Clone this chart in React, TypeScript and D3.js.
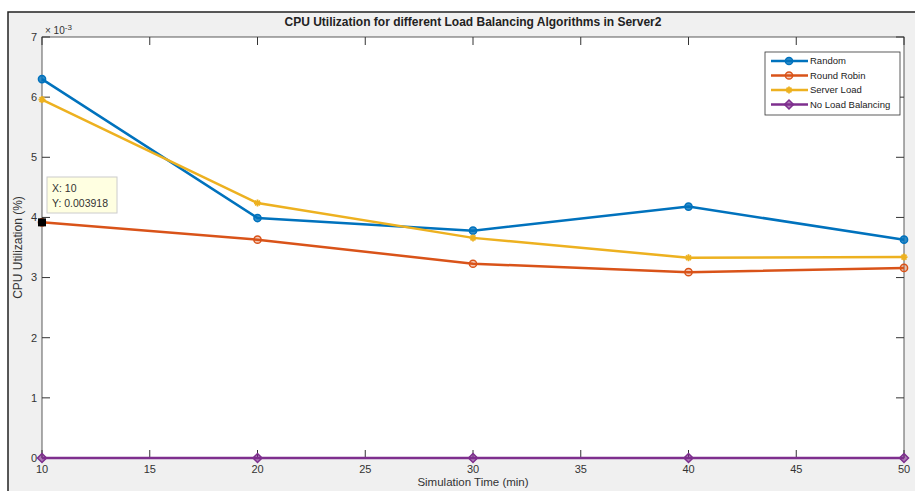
import React from "react";
import * as d3 from "d3";

const WIDTH = 915;
const HEIGHT = 491;

const times = [10, 20, 30, 40, 50];
const randomVals = [6.3, 3.99, 3.78, 4.18, 3.63];
const roundRobinVals = [3.918, 3.63, 3.23, 3.09, 3.16];
const serverLoadVals = [5.96, 4.24, 3.66, 3.33, 3.34];
const noBalanceVals = [0, 0, 0, 0, 0];

const seriesNames = ["Random", "Round Robin", "Server Load", "No Load Balancing"];
const colors = ["#0072BD", "#D95319", "#EDB120", "#7E2F8E"];
const xTicks = [10, 15, 20, 25, 30, 35, 40, 45, 50];
const yTicks = [0, 1, 2, 3, 4, 5, 6, 7];

const PLOT = { left: 42, top: 37, right: 904, bottom: 458 };
const FONT = "Liberation Sans, Arial, sans-serif";

function Marker({ kind, x, y, color }: { kind: number; x: number; y: number; color: string }) {
  if (kind === 3) {
    const s = 4.5;
    return (
      <path
        d={`M${x},${y - s}L${x + s},${y}L${x},${y + s}L${x - s},${y}Z`}
        fill={color}
        fillOpacity={0.6}
        stroke={color}
        strokeWidth={1.5}
      />
    );
  }
  if (kind === 2) {
    const s = 3.5;
    return (
      <g stroke={color} strokeWidth={1.8}>
        <line x1={x - s} y1={y} x2={x + s} y2={y} />
        <line x1={x} y1={y - s} x2={x} y2={y + s} />
        <line x1={x - s * 0.7} y1={y - s * 0.7} x2={x + s * 0.7} y2={y + s * 0.7} />
        <line x1={x - s * 0.7} y1={y + s * 0.7} x2={x + s * 0.7} y2={y - s * 0.7} />
      </g>
    );
  }
  return (
    <circle
      cx={x}
      cy={y}
      r={3.6}
      fill={color}
      fillOpacity={kind === 0 ? 0.8 : 0.3}
      stroke={color}
      strokeWidth={1.5}
    />
  );
}

export default function App() {
  const x = d3.scaleLinear().domain([10, 50]).range([PLOT.left, PLOT.right]);
  const y = d3.scaleLinear().domain([0, 7]).range([PLOT.bottom, PLOT.top]);

  const allSeries = [randomVals, roundRobinVals, serverLoadVals, noBalanceVals];
  const line = d3
    .line<number>()
    .x((_, i) => x(times[i]))
    .y((d) => y(d));

  const tipX = x(10);
  const tipY = y(roundRobinVals[0]);

  return (
    <svg
      width={WIDTH}
      height={HEIGHT}
      style={{ position: "absolute", left: 0, top: 0, background: "#fff" }}
      fontFamily={FONT}
    >
      {/* figure background */}
      <rect x={8} y={12} width={WIDTH} height={HEIGHT} fill="#f0f0f0" stroke="#222" strokeWidth={1.5} />
      <rect
        x={PLOT.left}
        y={PLOT.top}
        width={PLOT.right - PLOT.left}
        height={PLOT.bottom - PLOT.top}
        fill="#fff"
        stroke="#333"
        strokeWidth={0.8}
      />

      {/* ticks */}
      {xTicks.map((t) => (
        <g key={"x" + t}>
          <line x1={x(t)} x2={x(t)} y1={PLOT.bottom} y2={PLOT.bottom - 8} stroke="#333" />
          <line x1={x(t)} x2={x(t)} y1={PLOT.top} y2={PLOT.top + 8} stroke="#333" />
          <text x={x(t)} y={PLOT.bottom + 15} textAnchor="middle" fontSize={11} fill="#333">
            {t}
          </text>
        </g>
      ))}
      {yTicks.map((t) => (
        <g key={"y" + t}>
          <line x1={PLOT.left} x2={PLOT.left + 8} y1={y(t)} y2={y(t)} stroke="#333" />
          <line x1={PLOT.right} x2={PLOT.right - 8} y1={y(t)} y2={y(t)} stroke="#333" />
          <text x={PLOT.left - 5} y={y(t)} dy="0.35em" textAnchor="end" fontSize={11} fill="#333">
            {t}
          </text>
        </g>
      ))}
      <text x={PLOT.left + 3} y={PLOT.top - 3} fontSize={10} fill="#333">
        × 10
        <tspan dy={-4} fontSize={8}>
          -3
        </tspan>
      </text>

      {/* title and axis labels */}
      <text x={(PLOT.left + PLOT.right) / 2} y={26} textAnchor="middle" fontSize={12} fontWeight="bold" fill="#222">
        CPU Utilization for different Load Balancing Algorithms in Server2
      </text>
      <text x={(PLOT.left + PLOT.right) / 2} y={486} textAnchor="middle" fontSize={11.5} fill="#333">
        Simulation Time (min)
      </text>
      <text
        transform={`translate(22, ${(PLOT.top + PLOT.bottom) / 2}) rotate(-90)`}
        textAnchor="middle"
        fontSize={12}
        fill="#333"
      >
        CPU Utilization (%)
      </text>

      {/* series */}
      {allSeries.map((vals, si) => (
        <g key={si}>
          <path d={line(vals) ?? ""} fill="none" stroke={colors[si]} strokeWidth={2.5} />
          {vals.map((v, i) => (
            <Marker key={i} kind={si} x={x(times[i])} y={y(v)} color={colors[si]} />
          ))}
        </g>
      ))}

      {/* data tip */}
      <rect x={tipX - 4} y={tipY - 4} width={8} height={8} fill="#000" />
      <rect x={47} y={177} width={70} height={36} fill="#ffffe1" stroke="#ccc" strokeWidth={1} />
      <text x={52} y={192} fontSize={10.5} fill="#333">
        X: 10
      </text>
      <text x={52} y={207} fontSize={10.5} fill="#333">
        Y: 0.003918
      </text>

      {/* legend */}
      <rect x={765} y={52} width={135} height={63} fill="#fff" stroke="#333" strokeWidth={0.8} />
      {seriesNames.map((name, i) => {
        const ly = 61 + i * 14.5;
        return (
          <g key={name}>
            <line x1={771} x2={808} y1={ly} y2={ly} stroke={colors[i]} strokeWidth={2.5} />
            <Marker kind={i} x={789} y={ly} color={colors[i]} />
            <text x={810} y={ly} dy="0.35em" fontSize={9.5} fill="#222">
              {name}
            </text>
          </g>
        );
      })}
    </svg>
  );
}
